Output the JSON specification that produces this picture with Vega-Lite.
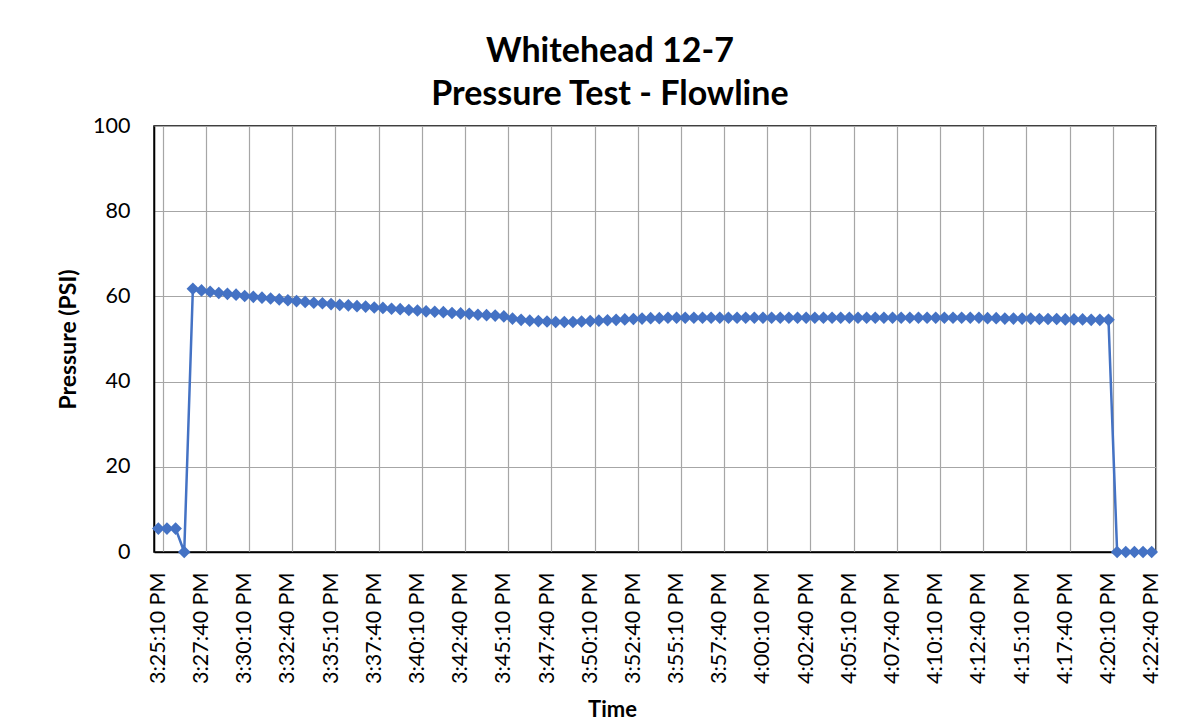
{
  "$schema": "https://vega.github.io/schema/vega-lite/v6.json",
  "autosize": "none",
  "width": 1002,
  "height": 426,
  "padding": {"left": 154, "top": 126, "right": 36, "bottom": 174},
  "background": "white",
  "title": {
    "text": ["Whitehead 12-7", "Pressure Test - Flowline"],
    "font": "Lato", "fontSize": 34, "fontWeight": "bold", "color": "#000000",
    "anchor": "middle", "frame": "bounds", "lineHeight": 43, "offset": 3
  },
  "data": {"values": [
    {"t": "3:25:10 PM", "p": 5.5}, {"t": "3:25:40 PM", "p": 5.5},
    {"t": "3:26:10 PM", "p": 5.5}, {"t": "3:26:40 PM", "p": 0},
    {"t": "3:27:10 PM", "p": 61.8}, {"t": "3:27:40 PM", "p": 61.4},
    {"t": "3:28:10 PM", "p": 61.1}, {"t": "3:28:40 PM", "p": 60.8},
    {"t": "3:29:10 PM", "p": 60.6}, {"t": "3:29:40 PM", "p": 60.4},
    {"t": "3:30:10 PM", "p": 60.1}, {"t": "3:30:40 PM", "p": 59.9},
    {"t": "3:31:10 PM", "p": 59.7}, {"t": "3:31:40 PM", "p": 59.5},
    {"t": "3:32:10 PM", "p": 59.3}, {"t": "3:32:40 PM", "p": 59.1},
    {"t": "3:33:10 PM", "p": 58.9}, {"t": "3:33:40 PM", "p": 58.7},
    {"t": "3:34:10 PM", "p": 58.5}, {"t": "3:34:40 PM", "p": 58.4},
    {"t": "3:35:10 PM", "p": 58.2}, {"t": "3:35:40 PM", "p": 58.0},
    {"t": "3:36:10 PM", "p": 57.9}, {"t": "3:36:40 PM", "p": 57.7},
    {"t": "3:37:10 PM", "p": 57.6}, {"t": "3:37:40 PM", "p": 57.4},
    {"t": "3:38:10 PM", "p": 57.3}, {"t": "3:38:40 PM", "p": 57.1},
    {"t": "3:39:10 PM", "p": 57.0}, {"t": "3:39:40 PM", "p": 56.8},
    {"t": "3:40:10 PM", "p": 56.7}, {"t": "3:40:40 PM", "p": 56.5},
    {"t": "3:41:10 PM", "p": 56.4}, {"t": "3:41:40 PM", "p": 56.3},
    {"t": "3:42:10 PM", "p": 56.1}, {"t": "3:42:40 PM", "p": 56.0},
    {"t": "3:43:10 PM", "p": 55.9}, {"t": "3:43:40 PM", "p": 55.7},
    {"t": "3:44:10 PM", "p": 55.6}, {"t": "3:44:40 PM", "p": 55.5},
    {"t": "3:45:10 PM", "p": 55.3}, {"t": "3:45:40 PM", "p": 54.8},
    {"t": "3:46:10 PM", "p": 54.5}, {"t": "3:46:40 PM", "p": 54.3},
    {"t": "3:47:10 PM", "p": 54.2}, {"t": "3:47:40 PM", "p": 54.1},
    {"t": "3:48:10 PM", "p": 54.0}, {"t": "3:48:40 PM", "p": 54.0},
    {"t": "3:49:10 PM", "p": 54.0}, {"t": "3:49:40 PM", "p": 54.1},
    {"t": "3:50:10 PM", "p": 54.2}, {"t": "3:50:40 PM", "p": 54.3},
    {"t": "3:51:10 PM", "p": 54.4}, {"t": "3:51:40 PM", "p": 54.5},
    {"t": "3:52:10 PM", "p": 54.6}, {"t": "3:52:40 PM", "p": 54.7},
    {"t": "3:53:10 PM", "p": 54.8}, {"t": "3:53:40 PM", "p": 54.9},
    {"t": "3:54:10 PM", "p": 54.9}, {"t": "3:54:40 PM", "p": 55.0},
    {"t": "3:55:10 PM", "p": 55.0}, {"t": "3:55:40 PM", "p": 55.0},
    {"t": "3:56:10 PM", "p": 55.0}, {"t": "3:56:40 PM", "p": 55.0},
    {"t": "3:57:10 PM", "p": 55.0}, {"t": "3:57:40 PM", "p": 55.0},
    {"t": "3:58:10 PM", "p": 55.0}, {"t": "3:58:40 PM", "p": 55.0},
    {"t": "3:59:10 PM", "p": 55.0}, {"t": "3:59:40 PM", "p": 55.0},
    {"t": "4:00:10 PM", "p": 55.0}, {"t": "4:00:40 PM", "p": 55.0},
    {"t": "4:01:10 PM", "p": 55.0}, {"t": "4:01:40 PM", "p": 55.0},
    {"t": "4:02:10 PM", "p": 55.0}, {"t": "4:02:40 PM", "p": 55.0},
    {"t": "4:03:10 PM", "p": 55.0}, {"t": "4:03:40 PM", "p": 55.0},
    {"t": "4:04:10 PM", "p": 55.0}, {"t": "4:04:40 PM", "p": 55.0},
    {"t": "4:05:10 PM", "p": 55.0}, {"t": "4:05:40 PM", "p": 55.0},
    {"t": "4:06:10 PM", "p": 55.0}, {"t": "4:06:40 PM", "p": 55.0},
    {"t": "4:07:10 PM", "p": 55.0}, {"t": "4:07:40 PM", "p": 55.0},
    {"t": "4:08:10 PM", "p": 55.0}, {"t": "4:08:40 PM", "p": 55.0},
    {"t": "4:09:10 PM", "p": 55.0}, {"t": "4:09:40 PM", "p": 55.0},
    {"t": "4:10:10 PM", "p": 55.0}, {"t": "4:10:40 PM", "p": 55.0},
    {"t": "4:11:10 PM", "p": 55.0}, {"t": "4:11:40 PM", "p": 55.0},
    {"t": "4:12:10 PM", "p": 55.0}, {"t": "4:12:40 PM", "p": 55.0},
    {"t": "4:13:10 PM", "p": 54.9}, {"t": "4:13:40 PM", "p": 54.9},
    {"t": "4:14:10 PM", "p": 54.8}, {"t": "4:14:40 PM", "p": 54.8},
    {"t": "4:15:10 PM", "p": 54.8}, {"t": "4:15:40 PM", "p": 54.8},
    {"t": "4:16:10 PM", "p": 54.7}, {"t": "4:16:40 PM", "p": 54.7},
    {"t": "4:17:10 PM", "p": 54.7}, {"t": "4:17:40 PM", "p": 54.6},
    {"t": "4:18:10 PM", "p": 54.6}, {"t": "4:18:40 PM", "p": 54.6},
    {"t": "4:19:10 PM", "p": 54.5}, {"t": "4:19:40 PM", "p": 54.5},
    {"t": "4:20:10 PM", "p": 54.5}, {"t": "4:20:40 PM", "p": 0},
    {"t": "4:21:10 PM", "p": 0}, {"t": "4:21:40 PM", "p": 0},
    {"t": "4:22:10 PM", "p": 0}, {"t": "4:22:40 PM", "p": 0}
  ]},
  "mark": {
    "type": "line", "color": "#4472C4", "strokeWidth": 2.5,
    "point": {"shape": "diamond", "size": 160, "filled": true, "color": "#4472C4", "opacity": 1}
  },
  "encoding": {
    "x": {
      "field": "t", "type": "ordinal", "sort": null,
      "scale": {"type": "band", "paddingInner": 0, "paddingOuter": 0},
      "axis": {
        "title": "Time",
        "values": ["3:25:10 PM", "3:27:40 PM", "3:30:10 PM", "3:32:40 PM", "3:35:10 PM", "3:37:40 PM", "3:40:10 PM", "3:42:40 PM", "3:45:10 PM", "3:47:40 PM", "3:50:10 PM", "3:52:40 PM", "3:55:10 PM", "3:57:40 PM", "4:00:10 PM", "4:02:40 PM", "4:05:10 PM", "4:07:40 PM", "4:10:10 PM", "4:12:40 PM", "4:15:10 PM", "4:17:40 PM", "4:20:10 PM", "4:22:40 PM"],
        "tickBand": "extent", "grid": true, "ticks": false,
        "labelAngle": -90, "labelFont": "Lato", "labelFontSize": 21.5, "labelColor": "#000000",
        "labelPadding": 20,
        "titleFont": "Lato", "titleFontSize": 22, "titleFontWeight": "bold", "titleColor": "#000000",
        "titlePadding": 16, "titleX": 458
      }
    },
    "y": {
      "field": "p", "type": "quantitative",
      "scale": {"domain": [0, 100], "nice": false},
      "axis": {
        "title": "Pressure (PSI)",
        "values": [0, 20, 40, 60, 80, 100],
        "grid": true, "ticks": false,
        "labelFont": "Lato", "labelFontSize": 21.5, "labelColor": "#000000",
        "labelPadding": 24,
        "titleFont": "Lato", "titleFontSize": 23, "titleFontWeight": "bold", "titleColor": "#000000",
        "titlePadding": 12
      }
    }
  },
  "config": {
    "view": {"stroke": "#000000", "strokeWidth": 1.5},
    "axis": {"gridColor": "#A6A6A6", "gridWidth": 1.2, "gridOpacity": 1, "domainColor": "#000000", "domainWidth": 1.5}
  }
}
